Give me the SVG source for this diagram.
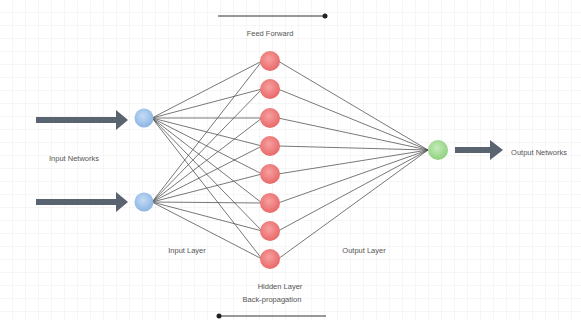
<svg xmlns="http://www.w3.org/2000/svg" width="581" height="320" viewBox="0 0 581 320">
<defs>
<pattern id="grid" width="13" height="13" patternUnits="userSpaceOnUse">
<path d="M13 0V13M0 13H13" fill="none" stroke="#ededed" stroke-width="1"/>
</pattern>
<radialGradient id="gr" cx="0.45" cy="0.4" r="0.6"><stop offset="0" stop-color="#f8a0a0"/><stop offset="1" stop-color="#e86868"/></radialGradient>
<radialGradient id="gb" cx="0.45" cy="0.4" r="0.6"><stop offset="0" stop-color="#c4dcf6"/><stop offset="1" stop-color="#8cb4e4"/></radialGradient>
<radialGradient id="gg" cx="0.45" cy="0.4" r="0.6"><stop offset="0" stop-color="#c4ecb8"/><stop offset="1" stop-color="#90d080"/></radialGradient>
<marker id="dot" markerWidth="6" markerHeight="6" refX="3" refY="3" markerUnits="userSpaceOnUse"><circle cx="3" cy="3" r="2.5" fill="#222"/></marker>
</defs>
<style>
.t{font-family:"Liberation Sans",Arial,sans-serif;font-size:7.5px;fill:#555;text-anchor:middle}
.c{stroke:#555;stroke-width:0.8;fill:none}
.big{fill:#5a6370}
.red{fill:url(#gr)}
.blue{fill:url(#gb)}
.green{fill:url(#gg)}
</style>
<rect width="581" height="320" fill="#fff"/>
<rect width="581" height="320" fill="url(#grid)"/>
<g id="connectors">
<path class="c" d="M152 118L262 61M152 118L262 89M152 118L262 118M152 118L262 146M152 118L262 174M152 118L262 203M152 118L262 231M152 118L262 259"/>
<path class="c" d="M152 202L262 61M152 202L262 89M152 202L262 118M152 202L262 146M152 202L262 174M152 202L262 203M152 202L262 231M152 202L262 259"/>
<path class="c" d="M278 61L428 150M278 89L428 150M278 118L428 150M278 146L428 150M278 174L428 150M278 203L428 150M278 231L428 150M278 259L428 150"/>
<line x1="218" y1="16" x2="325" y2="16" stroke="#333" stroke-width="1" marker-end="url(#dot)"/>
<line x1="326" y1="316" x2="219" y2="316" stroke="#333" stroke-width="1" marker-end="url(#dot)"/>
</g>
<g id="arrow-in1"><path class="big" d="M36 117H116V110L128 120L116 130V123H36Z"/></g>
<g id="arrow-in2"><path class="big" d="M36 199H116V192L128 202L116 212V205H36Z"/></g>
<g id="arrow-out"><path class="big" d="M455 147H490V140L503 150L490 160V153H455Z"/></g>
<g id="in1"><circle class="blue" cx="144" cy="118" r="9.5"/></g>
<g id="in2"><circle class="blue" cx="144" cy="202" r="9.5"/></g>
<g id="h1"><circle class="red" cx="270" cy="61" r="10"/></g>
<g id="h2"><circle class="red" cx="270" cy="89" r="10"/></g>
<g id="h3"><circle class="red" cx="270" cy="118" r="10"/></g>
<g id="h4"><circle class="red" cx="270" cy="146" r="10"/></g>
<g id="h5"><circle class="red" cx="270" cy="174" r="10"/></g>
<g id="h6"><circle class="red" cx="270" cy="203" r="10"/></g>
<g id="h7"><circle class="red" cx="270" cy="231" r="10"/></g>
<g id="h8"><circle class="red" cx="270" cy="259" r="10"/></g>
<g id="out"><circle class="green" cx="438" cy="150" r="10"/></g>
<g id="labels">
<text class="t" x="270" y="36">Feed Forward</text>
<text class="t" x="74" y="161">Input Networks</text>
<text class="t" x="539" y="155">Output Networks</text>
<text class="t" x="187" y="253">Input Layer</text>
<text class="t" x="364" y="253">Output Layer</text>
<text class="t" x="280" y="289">Hidden Layer</text>
<text class="t" x="272" y="302">Back-propagation</text>
</g>
</svg>
